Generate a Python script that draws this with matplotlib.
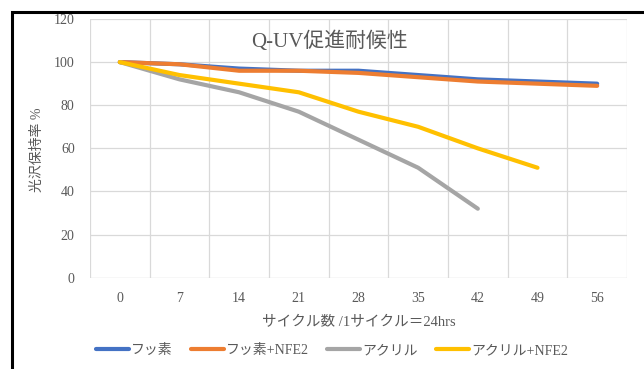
import matplotlib.pyplot as plt
from matplotlib.lines import Line2D

plt.rcParams['font.family'] = ['Liberation Serif', 'Noto Sans CJK JP']

# Q-UV weathering test: gloss retention (%) per cycle count
cycles = ['0', '7', '14', '21', '28', '35', '42', '49', '56']
fluoro = [100, 99, 97, 96, 96, 94, 92, 91, 90]
fluoro_nfe2 = [100, 99, 96, 96, 95, 93, 91, 90, 89]
acryl = [100, 92, 86, 77, 64, 51, 32]
acryl_nfe2 = [100, 94, 90, 86, 77, 70, 60, 51]

series = [
    ('フッ素', fluoro, '#4472C4'),
    ('フッ素+NFE2', fluoro_nfe2, '#ED7D31'),
    ('アクリル', acryl, '#A5A5A5'),
    ('アクリル+NFE2', acryl_nfe2, '#FFC000'),
]

text_col = '#595959'
grid_col = '#D9D9D9'

W, H = 644, 369
fig = plt.figure(figsize=(W / 100, H / 100), dpi=100)
ax = fig.add_axes([90 / W, 1 - 277.7 / H, (627 - 90) / W, (277.7 - 19) / H])

for name, vals, col in series:
    ax.plot(range(len(vals)), vals, color=col, lw=3.0,
            solid_capstyle='round', solid_joinstyle='round', label=name)

ax.set_xlim(-0.5, len(cycles) - 0.5)
ax.set_ylim(0, 120)
ax.set_yticks(range(0, 121, 20))
ax.set_xticks(range(len(cycles)))
ax.set_xticklabels(cycles)

# gridlines: horizontal at y ticks, vertical at category boundaries
for y in range(20, 121, 20):
    ax.axhline(y, color=grid_col, lw=0.9, zorder=0)
for i in range(len(cycles) + 1):
    ax.axvline(i - 0.5, color=grid_col, lw=0.9, zorder=0)
ax.axhline(0, color=grid_col, lw=1.0, zorder=0)

for s in ax.spines.values():
    s.set_visible(False)
ax.tick_params(length=0, labelsize=10, colors=text_col)
ax.tick_params(axis='y', pad=11)
ax.tick_params(axis='x', pad=10)

fig.text(37 / W, 1 - 150 / H, '光沢保持率 %', fontsize=10, color=text_col,
         rotation=90, ha='center', va='center')
ax.set_xlabel('サイクル数 /1サイクル＝24hrs', fontsize=10.5,
              color=text_col, labelpad=8)

fig.text(330 / W, 1 - 42 / H, 'Q-UV促進耐候性', fontsize=15,
         color=text_col, ha='center', va='center')

fig.legend(loc='center', bbox_to_anchor=(332 / W, 1 - 350.5 / H), ncol=4,
           frameon=False, fontsize=10, handlelength=2.4, handletextpad=0.15,
           columnspacing=1.3, labelcolor=text_col)

# thick frame around the chart
fig.add_artist(Line2D([12 / W, 12 / W, 1.0], [0.0, 1 - 12 / H, 1 - 12 / H],
                      transform=fig.transFigure, color='black', lw=2.2,
                      solid_joinstyle='miter'))

fig.savefig('out.png', dpi=100)
